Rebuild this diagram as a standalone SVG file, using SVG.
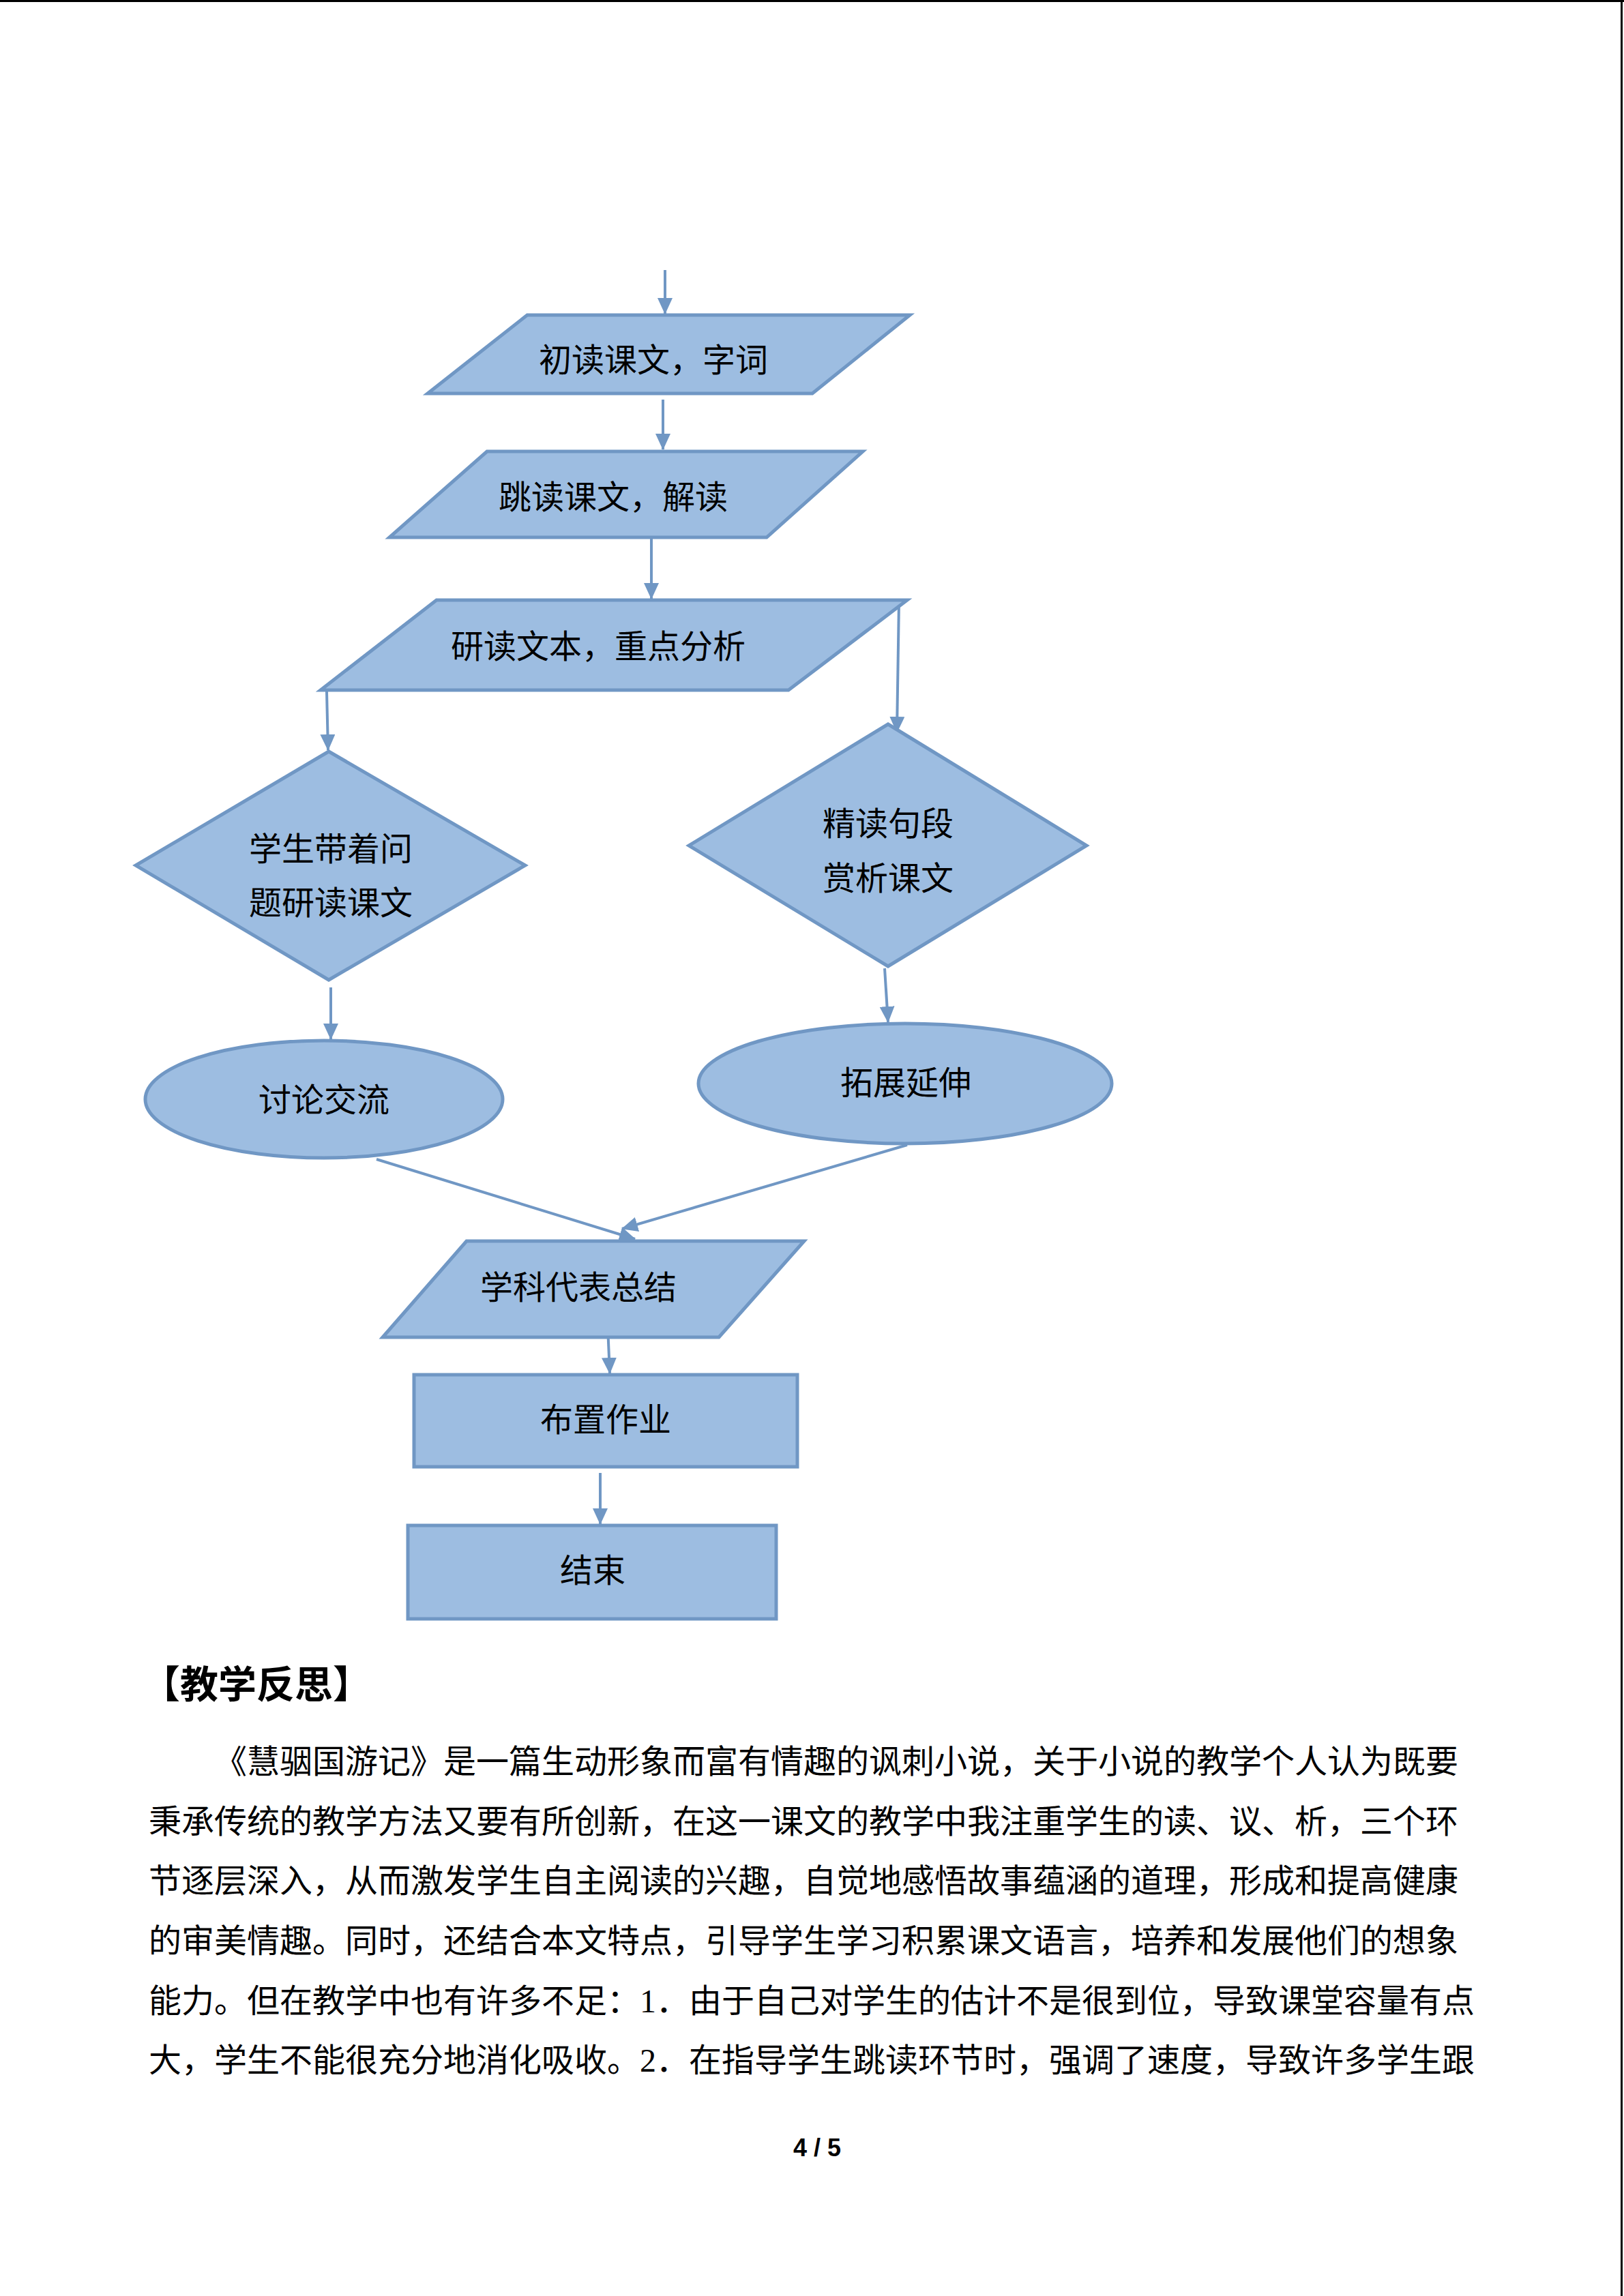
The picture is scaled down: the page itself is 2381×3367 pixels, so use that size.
<svg xmlns="http://www.w3.org/2000/svg" width="2381" height="3367" viewBox="0 0 2381 3367">
<style>
.shape{fill:#9DBDE1;stroke:#7097C4;stroke-width:5;stroke-linejoin:miter}
.conn{fill:none;stroke:#7097C4;stroke-width:4}
.lbl{font-family:"Liberation Serif","Noto Sans CJK SC",serif;font-size:48px;fill:#000;text-anchor:middle;dominant-baseline:central}
.body{font-family:"Liberation Serif","Noto Sans CJK SC",serif;font-size:48px;fill:#000;dominant-baseline:central}
.head{font-family:"Noto Sans CJK SC",sans-serif;font-size:56px;font-weight:bold;fill:#000;dominant-baseline:central}
.pg{font-family:"Liberation Sans","Noto Sans",sans-serif;font-size:36px;font-weight:bold;fill:#000;text-anchor:middle}
</style>
<defs>
<marker id="ah" markerUnits="userSpaceOnUse" markerWidth="24" markerHeight="22" refX="23" refY="11" orient="auto">
<path d="M0,0 L24,11 L0,22 z" fill="#7097C4"/>
</marker>
</defs>
<rect x="0" y="0" width="2381" height="3367" fill="#ffffff"/>
<g id="page-border">
<line x1="0" y1="1.5" x2="2381" y2="1.5" stroke="#000" stroke-width="3"/>
<line x1="2377.5" y1="0" x2="2377.5" y2="3367" stroke="#000" stroke-width="3"/>
</g>

<g id="connectors">
<line class="conn" x1="975" y1="396" x2="975" y2="460" marker-end="url(#ah)"/>
<line class="conn" x1="972" y1="586" x2="972" y2="659" marker-end="url(#ah)"/>
<line class="conn" x1="955" y1="790" x2="955" y2="878" marker-end="url(#ah)"/>
<line class="conn" x1="479" y1="1014" x2="481" y2="1100" marker-end="url(#ah)"/>
<line class="conn" x1="1318" y1="882" x2="1315" y2="1074" marker-end="url(#ah)"/>
<line class="conn" x1="485" y1="1448" x2="485" y2="1524" marker-end="url(#ah)"/>
<line class="conn" x1="1297" y1="1420" x2="1302" y2="1499" marker-end="url(#ah)"/>
<line class="conn" x1="552" y1="1700" x2="931" y2="1817" marker-end="url(#ah)"/>
<line class="conn" x1="1330" y1="1679" x2="912" y2="1802" marker-end="url(#ah)"/>
<line class="conn" x1="891" y1="1945" x2="894" y2="2014" marker-end="url(#ah)"/>
<line class="conn" x1="880" y1="2160" x2="880" y2="2235" marker-end="url(#ah)"/>
</g>

<g id="n1">
<polygon class="shape" points="773,462 1334,462 1191,577 627,577"/>
<text class="lbl" x="958" y="528">初读课文，字词</text>
</g>
<g id="n2">
<polygon class="shape" points="714,662 1265,662 1124,788 571,788"/>
<text class="lbl" x="899" y="729">跳读课文，解读</text>
</g>
<g id="n3">
<polygon class="shape" points="640,880 1330,880 1156,1012 470,1012"/>
<text class="lbl" x="877" y="948">研读文本，重点分析</text>
</g>
<g id="n4">
<polygon class="shape" points="482,1102 770,1269 482,1437 199,1269"/>
<text class="lbl" x="485" y="1245">学生带着问</text>
<text class="lbl" x="485" y="1324">题研读课文</text>
</g>
<g id="n5">
<polygon class="shape" points="1302,1062 1593,1240 1302,1417 1010,1240"/>
<text class="lbl" x="1302" y="1208">精读句段</text>
<text class="lbl" x="1302" y="1288">赏析课文</text>
</g>
<g id="n6">
<ellipse class="shape" cx="475" cy="1612" rx="262" ry="86"/>
<text class="lbl" x="475" y="1613">讨论交流</text>
</g>
<g id="n7">
<ellipse class="shape" cx="1327" cy="1589" rx="303" ry="88"/>
<text class="lbl" x="1328" y="1588">拓展延伸</text>
</g>
<g id="n8">
<polygon class="shape" points="684,1820 1179,1820 1054,1961 561,1961"/>
<text class="lbl" x="848" y="1888">学科代表总结</text>
</g>
<g id="n9">
<rect class="shape" x="607" y="2016" width="562" height="135"/>
<text class="lbl" x="888" y="2082">布置作业</text>
</g>
<g id="n10">
<rect class="shape" x="598" y="2237" width="540" height="137"/>
<text class="lbl" x="869" y="2303">结束</text>
</g>

<g id="reflection">
<text class="head" x="208" y="2465">【教学反思】</text>
<text class="body" x="314" y="2583">《慧骃国游记》是一篇生动形象而富有情趣的讽刺小说，关于小说的教学个人认为既要</text>
<text class="body" x="218" y="2671">秉承传统的教学方法又要有所创新，在这一课文的教学中我注重学生的读、议、析，三个环</text>
<text class="body" x="218" y="2758">节逐层深入，从而激发学生自主阅读的兴趣，自觉地感悟故事蕴涵的道理，形成和提高健康</text>
<text class="body" x="218" y="2846">的审美情趣。同时，还结合本文特点，引导学生学习积累课文语言，培养和发展他们的想象</text>
<text class="body" x="218" y="2934">能力。但在教学中也有许多不足：1．由于自己对学生的估计不是很到位，导致课堂容量有点</text>
<text class="body" x="218" y="3021">大，学生不能很充分地消化吸收。2．在指导学生跳读环节时，强调了速度，导致许多学生跟</text>
</g>
<text class="pg" x="1198" y="3162">4 / 5</text>
</svg>
